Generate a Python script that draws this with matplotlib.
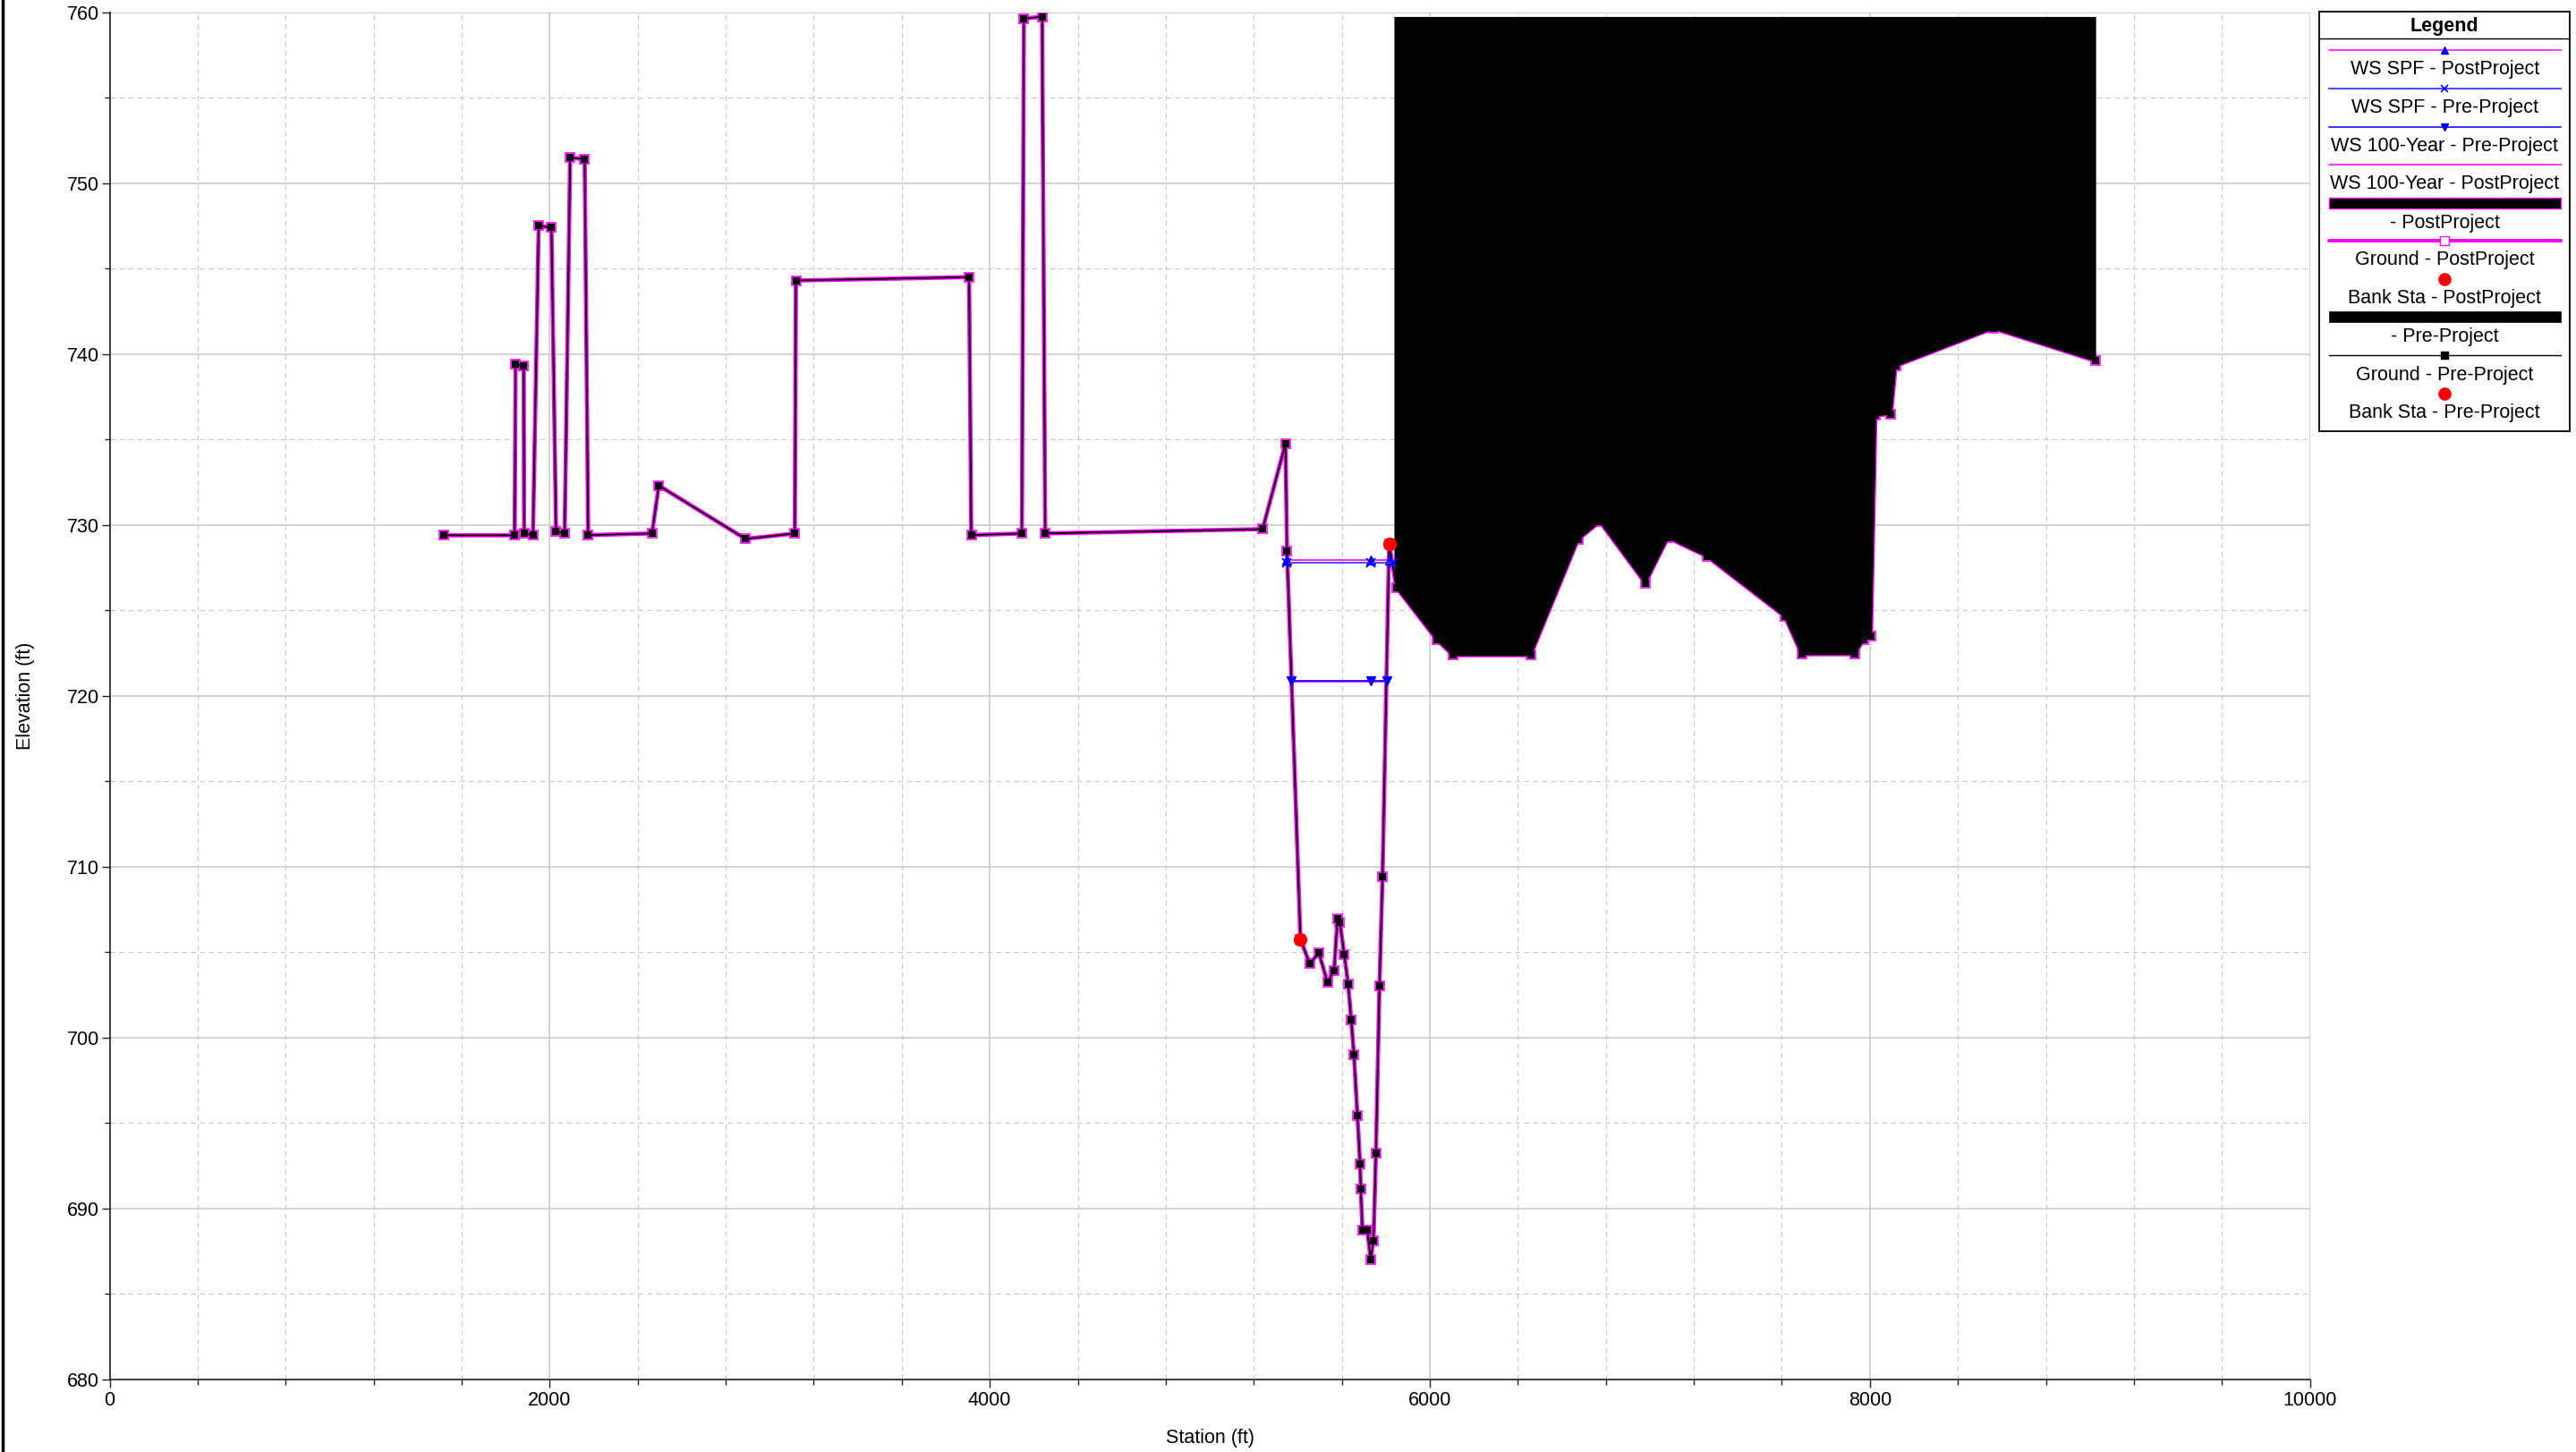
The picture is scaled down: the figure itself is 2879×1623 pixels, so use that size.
import numpy as np
import matplotlib
matplotlib.use("Agg")
import matplotlib.pyplot as plt
from matplotlib.lines import Line2D
from matplotlib.patches import Rectangle
from matplotlib.ticker import MultipleLocator

plt.rcParams['font.family'] = ['Liberation Sans', 'DejaVu Sans']

# ground profile (same for PostProject and Pre-Project)
ground_sta = [1520, 1841, 1845, 1882, 1884, 1924, 1950, 2008, 2029, 2068,
              2093, 2159, 2175, 2465, 2496, 2890, 3114, 3119, 3906, 3916,
              4146, 4155, 4238, 4252, 5240, 5344, 5351, 5412, 5454, 5496,
              5535, 5565, 5580, 5591, 5611, 5629, 5643, 5655, 5671, 5683,
              5686, 5694, 5716, 5731, 5744, 5755, 5771, 5785, 5815, 5848,
              6031, 6105, 6458, 6674, 6773, 6979, 7082, 7259, 7613, 7690,
              7930, 7971, 8005, 8025, 8096, 8117, 8560, 9025]
ground_elev = [729.39, 729.39, 739.42, 739.3, 729.5, 729.4, 747.5, 747.4, 729.6, 729.5,
               751.5, 751.4, 729.4, 729.5, 732.3, 729.18, 729.5, 744.3, 744.5, 729.4,
               729.5, 759.63, 759.74, 729.5, 729.75, 734.76, 728.45, 705.74, 704.33, 704.94,
               703.23, 703.93, 706.93, 706.76, 704.84, 703.11, 701.01, 699.01, 695.41, 692.62,
               691.12, 688.71, 688.71, 687.0, 688.12, 693.21, 703.0, 709.41, 728.9, 726.33,
               723.29, 722.37, 722.37, 729.15, 730.19, 726.59, 729.25, 728.16, 724.64, 722.43,
               722.43, 723.28, 723.5, 736.4, 736.5, 739.3, 741.5, 739.6]

# blocked area (levee / obstruction)
block_sta = [5838, 9025]
block_top = 759.75

# water surfaces
spf_post_sta = [5350, 5731, 5816]
spf_post_ws = 727.96
spf_pre_sta = [5350, 5731, 5832]
spf_pre_ws = 727.77
q100_pre_sta = [5371, 5731, 5803]
q100_pre_ws = 720.87
q100_post_sta = [5371, 5803]
q100_post_ws = 720.82

# bank stations
bank_sta = [5412, 5815]
bank_elev = [705.74, 728.9]

MAG = '#ff00ff'
BLUE = '#0000ff'
BLUE2 = '#3c3cff'
FS = 15.5

fig = plt.figure(figsize=(28.79, 16.23), dpi=100)
ax = fig.add_axes([122.5 / 2879, 1 - 1541.7 / 1623, 2459.2 / 2879, 1528 / 1623])

gx = np.array(ground_sta, dtype=float)
gy = np.array(ground_elev, dtype=float)

ax.plot(gx, gy, color=MAG, lw=3.4, marker='s', ms=7.6, mfc='none', mec=MAG, mew=1.2, zorder=2)
ax.plot(gx, gy, color='black', lw=1.3, marker='s', ms=6.2, mfc='black', mec='black', mew=0, zorder=2.1)

# blocked obstruction fill
inside = (gx > block_sta[0]) & (gx < block_sta[1])
bx = np.concatenate([[block_sta[0]], gx[inside], [block_sta[1]]])
by = np.interp(bx, gx, gy)
ax.fill_between(bx, by, block_top, color='black', lw=0, zorder=3)
ax.fill_between(bx, by, block_top, color='black', lw=0, zorder=3.1)

ax.plot(spf_post_sta, [spf_post_ws] * len(spf_post_sta), color=MAG, lw=1.2,
        marker='^', ms=6.5, mfc=BLUE, mec=BLUE, zorder=4)
ax.plot(spf_pre_sta, [spf_pre_ws] * len(spf_pre_sta), color=BLUE2, lw=1.3,
        marker='x', ms=6.5, mec=BLUE, mew=1.3, zorder=4.1)
ax.plot(q100_post_sta, [q100_post_ws] * len(q100_post_sta), color=MAG, lw=1.2, zorder=4)
ax.plot(q100_pre_sta, [q100_pre_ws] * len(q100_pre_sta), color=BLUE, lw=1.2,
        marker='v', ms=6.5, mfc=BLUE, mec=BLUE, zorder=4.1)

ax.plot(bank_sta, bank_elev, ls='none', marker='o', ms=10, mfc='red', mec='red', zorder=5)

ax.set_xlim(0, 10000)
ax.set_ylim(680, 760)
ax.xaxis.set_major_locator(MultipleLocator(2000))
ax.xaxis.set_minor_locator(MultipleLocator(400))
ax.yaxis.set_major_locator(MultipleLocator(10))
ax.yaxis.set_minor_locator(MultipleLocator(5))
ax.grid(which='major', color='#c8c8c8', lw=1.1, zorder=0)
ax.grid(which='minor', color='#c8c8c8', lw=0.8, ls=(0, (5, 4)), zorder=0)
ax.set_axisbelow(True)
ax.tick_params(which='major', direction='out', length=6.5, width=1, labelsize=FS,
               color='#222222')
ax.tick_params(which='minor', direction='out', length=4, width=1, color='#222222')
ax.tick_params(axis='x', pad=3)
ax.tick_params(axis='y', pad=2)
for s in ['top', 'right']:
    ax.spines[s].set_visible(False)
for s in ['left', 'bottom']:
    ax.spines[s].set_color('#222222')
    ax.spines[s].set_linewidth(1.2)

ax.set_xlabel('Station (ft)', fontsize=FS)
ax.set_ylabel('Elevation (ft)', fontsize=FS)
ax.xaxis.set_label_coords(0.5, -0.036)
ax.yaxis.set_label_coords(-0.034, 0.5)

fig.add_artist(Line2D([0.0009, 0.0009], [0, 1], color='black', lw=2.5))

# legend panel, drawn in pixel units
lg = fig.add_axes([2592.3 / 2879, 1 - 482.3 / 1623, 280 / 2879, 469 / 1623])
lg.set_xlim(2592.3, 2872.3)
lg.set_ylim(482.3, 13.3)
lg.set_xticks([])
lg.set_yticks([])
for s in lg.spines.values():
    s.set_linewidth(1.3)
    s.set_color('black')
x0, x1, xc = 2602.7, 2861.7, 2732.3
lg.text(xc, 29, 'Legend', ha='center', va='center', fontsize=FS, fontweight='bold')
lg.axhline(43.3, color='black', lw=1)

entries = [
    ('WS SPF - PostProject', 56, 74),
    ('WS SPF - Pre-Project', 98.7, 117.3),
    ('WS 100-Year - Pre-Project', 141.7, 160),
    ('WS 100-Year - PostProject', 183.7, 202.7),
    ('- PostProject', 226.7, 246),
    ('Ground - PostProject', 269.3, 287.3),
    ('Bank Sta - PostProject', 311.7, 331),
    ('- Pre-Project', 354.3, 373.3),
    ('Ground - Pre-Project', 397.3, 416),
    ('Bank Sta - Pre-Project', 440, 458.3),
]
for label, ly, ty in entries:
    lg.text(xc, ty + 3, label, ha='center', va='center', fontsize=FS)

ys = [e[1] for e in entries]
lg.plot([x0, x1], [ys[0]] * 2, color=MAG, lw=1.1)
lg.plot([xc], [ys[0]], marker='^', ms=6, color=BLUE)
lg.plot([x0, x1], [ys[1]] * 2, color=BLUE2, lw=1.3)
lg.plot([xc], [ys[1]], marker='x', ms=6, mew=1.2, color=BLUE)
lg.plot([x0, x1], [ys[2]] * 2, color=BLUE, lw=1.1)
lg.plot([xc], [ys[2]], marker='v', ms=6, color=BLUE)
lg.plot([x0, x1], [ys[3]] * 2, color=MAG, lw=1.1)
lg.add_patch(Rectangle((x0, ys[4] - 6), x1 - x0, 12, facecolor='black', edgecolor=MAG, lw=1))
lg.plot([x0, x1], [ys[5]] * 2, color=MAG, lw=2.9, solid_capstyle='round')
lg.plot([xc], [ys[5]], marker='s', ms=7, mfc='white', mec=MAG, mew=1)
lg.plot([xc], [ys[6]], marker='o', ms=9.5, color='red')
lg.add_patch(Rectangle((x0, ys[7] - 6), x1 - x0, 12, facecolor='black', edgecolor='black', lw=0.5))
lg.plot([x0, x1], [ys[8]] * 2, color='black', lw=1)
lg.plot([xc], [ys[8]], marker='s', ms=5.5, color='black')
lg.plot([xc], [ys[9]], marker='o', ms=9.5, color='red')

fig.savefig('out.png', dpi=100)
